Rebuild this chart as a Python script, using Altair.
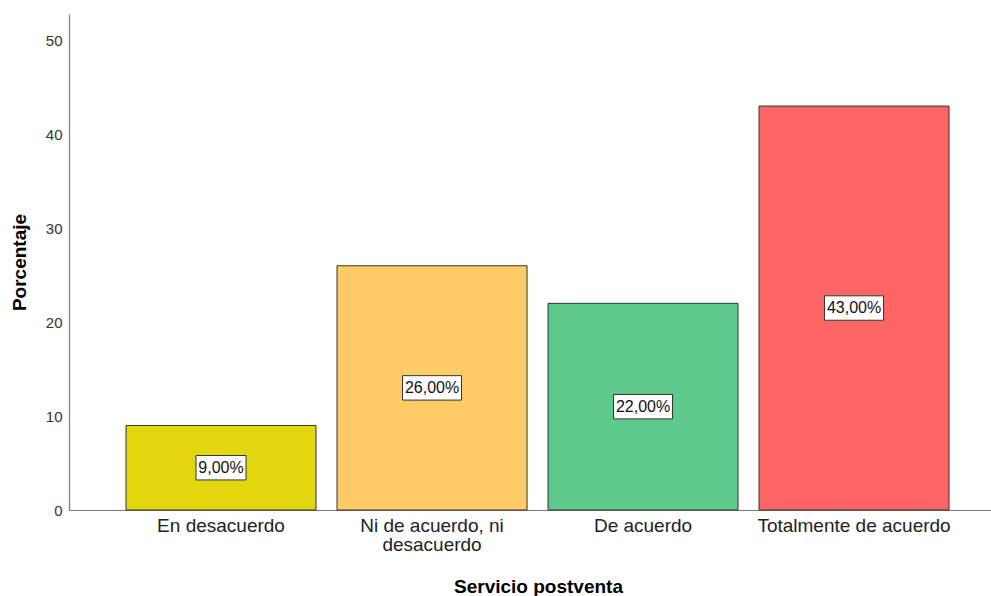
import altair as alt
import pandas as pd

# Responses to "Servicio postventa" (percent of respondents)
categories = ["En desacuerdo", "Ni de acuerdo, ni desacuerdo", "De acuerdo", "Totalmente de acuerdo"]
percentages = [9.0, 26.0, 22.0, 43.0]
bar_colors = ["#E2D70E", "#FECB66", "#5DC98B", "#FF6565"]
y_ticks = [0, 10, 20, 30, 40, 50]

df = pd.DataFrame({"categoria": categories, "porcentaje": percentages})

FONT = "Liberation Sans"

x_enc = alt.X(
    "categoria:N",
    sort=categories,
    scale=alt.Scale(paddingInner=0.0995, paddingOuter=0.2346, align=0.576),
    axis=alt.Axis(
        title="Servicio postventa",
        titleFont=FONT,
        titleFontSize=19,
        titleFontWeight="bold",
        titleColor="#000000",
        titleX=469,
        titleY=82,
        titleAlign="center",
        titleBaseline="alphabetic",
        labelFont=FONT,
        labelFontSize=19,
        labelColor="#222222",
        labelAngle=0,
        labelPadding=6,
        labelLineHeight=19,
        labelExpr="datum.label == 'Ni de acuerdo, ni desacuerdo' ? ['Ni de acuerdo, ni', 'desacuerdo'] : datum.label",
        labelLimit=400,
        ticks=False,
        domainColor="#7a7a7a",
        domainWidth=1.2,
    ),
)

y_scale = alt.Scale(domain=[0, 52.8], nice=False, zero=True)

bars = (
    alt.Chart(df)
    .mark_bar(stroke="#333333", strokeWidth=1)
    .encode(
        x=x_enc,
        y=alt.Y(
            "porcentaje:Q",
            scale=y_scale,
            axis=alt.Axis(
                title="Porcentaje",
                titleFont=FONT,
                titleFontSize=19,
                titleFontWeight="bold",
                titleColor="#000000",
                titleX=-50,
                titleY=248,
                titleAlign="center",
                titleBaseline="middle",
                values=y_ticks,
                labelFont=FONT,
                labelFontSize=15,
                labelColor="#333333",
                labelPadding=7,
                ticks=False,
                grid=False,
                domainColor="#7a7a7a",
                domainWidth=1.2,
            ),
        ),
        color=alt.Color(
            "categoria:N",
            scale=alt.Scale(domain=categories, range=bar_colors),
            legend=None,
        ),
    )
)

base_lab = alt.Chart(df).transform_calculate(
    mid="datum.porcentaje / 2",
    lo="datum.porcentaje / 2 - 1.3",
    hi="datum.porcentaje / 2 + 1.3",
    etiqueta="replace(format(datum.porcentaje, '.2f'), '.', ',') + '%'",
)

x_plain = alt.X("categoria:N", sort=categories)

box_short = (
    base_lab.transform_filter("datum.porcentaje < 10")
    .mark_bar(width=50, fill="white", stroke="#333333", strokeWidth=1)
    .encode(x=x_plain, y=alt.Y("lo:Q", scale=y_scale), y2="hi:Q")
)
box_long = (
    base_lab.transform_filter("datum.porcentaje >= 10")
    .mark_bar(width=59, fill="white", stroke="#333333", strokeWidth=1)
    .encode(x=x_plain, y=alt.Y("lo:Q", scale=y_scale), y2="hi:Q")
)
texts = (
    base_lab.mark_text(font=FONT, fontSize=16, color="#111111", baseline="middle", align="center")
    .encode(x=x_plain, y=alt.Y("mid:Q", scale=y_scale), text="etiqueta:N")
)

chart = (
    alt.layer(bars, box_short, box_long, texts)
    .properties(
        width=922,
        height=496,
        background="white",
        autosize=alt.AutoSizeParams(type="none"),
        padding={"left": 69, "top": 14, "right": 0, "bottom": 86},
    )
    .configure_view(stroke="transparent")
    .configure_axis(grid=False)
)

chart.save("out.html", embed_options={"renderer": "svg", "actions": False})
